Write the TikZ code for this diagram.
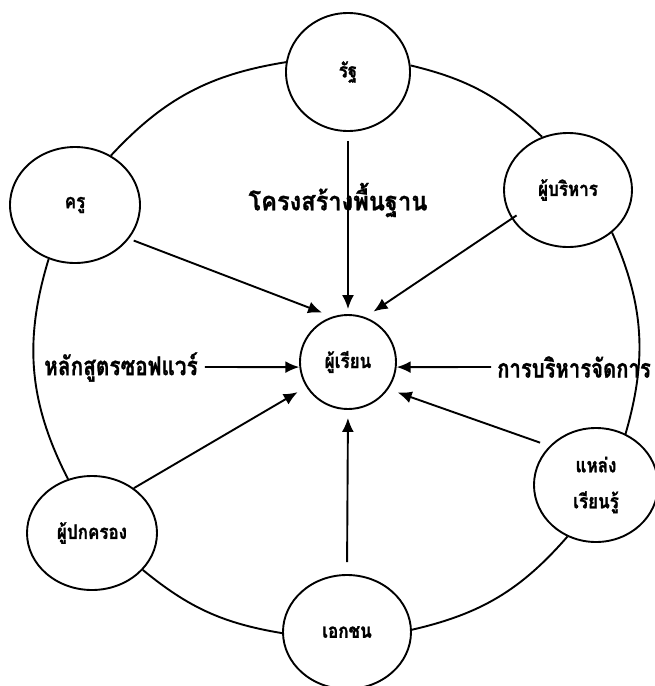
\documentclass[tikz,border=0pt]{standalone}
\usepackage{fontspec}
\newfontfamily\thaifont[Script=Thai, FakeBold=1]{Loma}
\newfontfamily\thaicond[Script=Thai, FakeStretch=0.85, FakeBold=1.2]{Loma}
\usetikzlibrary{shapes.geometric,arrows.meta}
\begin{document}
\begin{tikzpicture}[x=1pt,y=-1pt,
  actor/.style={draw, ellipse, line width=1.9pt, fill=white, inner sep=0pt,
    align=center, font=\thaicond\bfseries\fontsize{20}{36}\selectfont},
  ring/.style={line width=1.9pt},
  flow/.style={line width=1.9pt, -{Latex[length=14pt,width=12pt]}},
  caption/.style={inner sep=0pt, font=\thaifont\bfseries\fontsize{26}{30}\selectfont}]
\useasboundingbox (0,0) rectangle (655,686);

% actors around the learner
\node[actor, minimum width=124pt, minimum height=118pt] (rat)    at (348,72)  {รัฐ};
\node[actor, minimum width=130pt, minimum height=116pt] (kru)    at (75,205)  {ครู};
\node[actor, minimum width=128pt, minimum height=114pt] (bor)    at (568,190) {ผู้บริหาร};
\node[actor, minimum width=130pt, minimum height=114pt] (pokk)   at (92,533)  {ผู้ปกครอง};
\node[actor, minimum width=124pt, minimum height=114pt] (hlang)  at (596,485) {แหล่ง\\เรียนรู้};
\node[actor, minimum width=128pt, minimum height=114pt] (ekk)    at (347,632) {เอกชน};
\node[actor, minimum width=96pt,  minimum height=94pt]  (learner) at (348,362) {ผู้เรียน};

% captions
\node[caption] (infra) at (338,200) {\scalebox{0.91}[1]{โครงสร้างพื้นฐาน}};
\node[caption] (curr)  at (121,367) {\scalebox{0.80}[1]{หลักสูตรซอฟแวร์}};
\node[caption] (mgmt)  at (574,367) {\scalebox{0.78}[1]{การบริหารจัดการ}};

% outer ring
\draw[ring] (rat.171)  to[bend right=19] (kru.54);
\draw[ring] (bor.116)  to[bend right=15] (rat.6);
\draw[ring] (kru.244)  to[bend right=22] (pokk.114);
\draw[ring] (pokk.324) to[bend right=15] (ekk.181);
\draw[ring] (ekk.2)    to[bend right=18] (hlang.241);
\draw[ring] (hlang.60) to[bend right=20] (bor.316);

% influences on the learner
\draw[flow, shorten <=9pt,  shorten >=5pt]  (rat.south)   -- (learner.north);
\draw[flow, shorten <=12pt, shorten >=8pt]  (ekk.north)   -- (learner.south);
\draw[flow, shorten <=5pt,  shorten >=11pt] (kru.-32)     -- (learner.109);
\draw[flow, shorten <=-6pt, shorten >=10pt] (bor.207.5)   -- (learner.69.4);
\draw[flow, shorten >=10pt]                 (pokk.47.7)   -- (learner.211.8);
\draw[flow, shorten <=10pt, shorten >=10pt] (hlang.140.8) -- (learner.-34.3);
\draw[flow, shorten <=7pt]                  (curr.east)   -- (learner.186);
\draw[flow, shorten <=6pt]                  (mgmt.west)   -- (learner.354);
\end{tikzpicture}
\end{document}
